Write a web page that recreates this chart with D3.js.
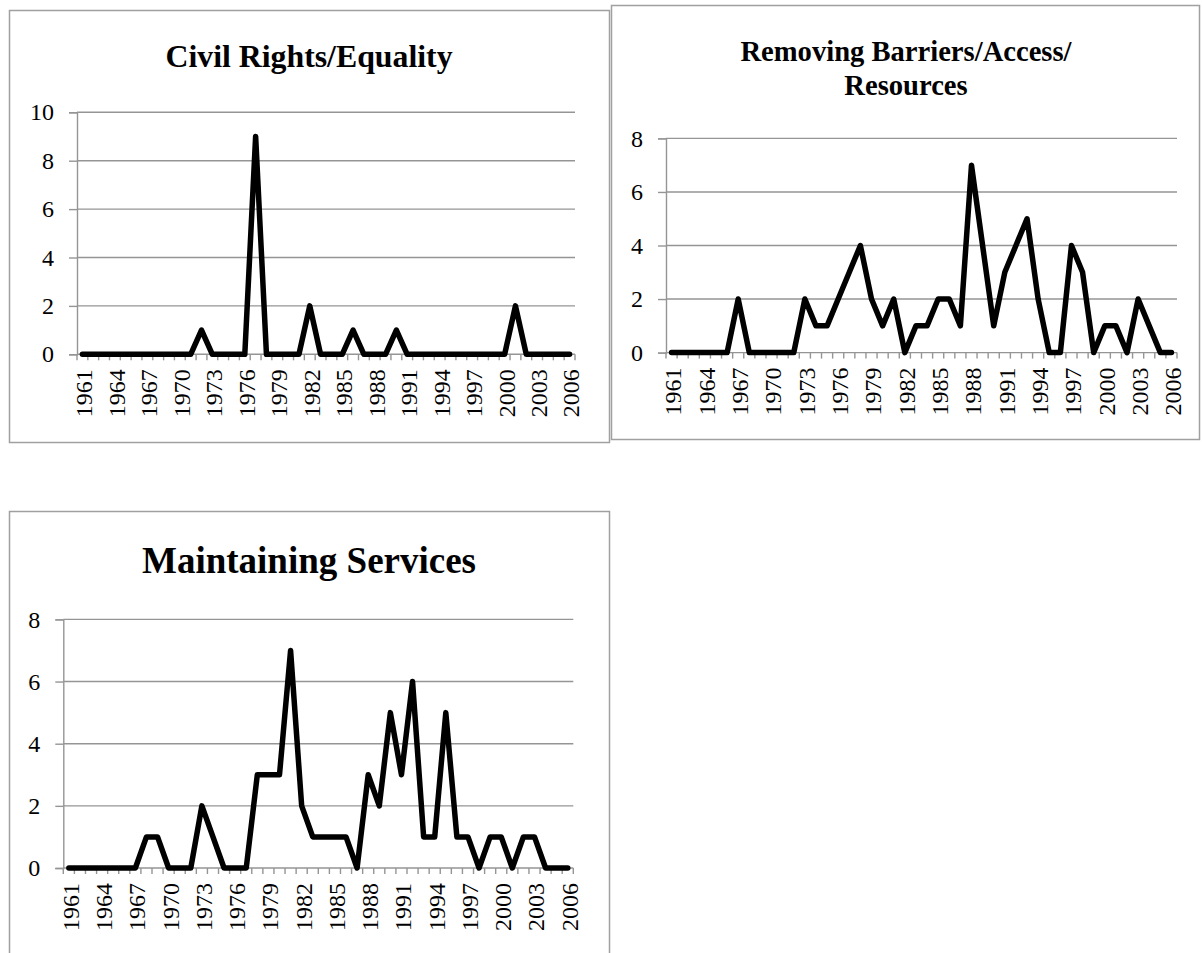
<!DOCTYPE html>
<html>
<head>
<meta charset="utf-8">
<script src="https://cdn.jsdelivr.net/npm/d3@7"></script>
<style>
  html, body { margin: 0; padding: 0; background: #ffffff; }
  svg { display: block; }
  text { font-family: "Liberation Serif", "Times New Roman", serif; fill: #000; }
</style>
</head>
<body>
<svg id="chart" width="1202" height="953"></svg>
<script>
// ---------------- DATA ----------------
const years = [1961,1962,1963,1964,1965,1966,1967,1968,1969,1970,
               1971,1972,1973,1974,1975,1976,1977,1978,1979,1980,
               1981,1982,1983,1984,1985,1986,1987,1988,1989,1990,
               1991,1992,1993,1994,1995,1996,1997,1998,1999,2000,
               2001,2002,2003,2004,2005,2006];
const yearTickLabels = [1961,1964,1967,1970,1973,1976,1979,1982,1985,1988,1991,1994,1997,2000,2003,2006];

const civilRights = [0,0,0,0,0,0,0,0,0,0,
                     0,1,0,0,0,0,9,0,0,0,
                     0,2,0,0,0,1,0,0,0,1,
                     0,0,0,0,0,0,0,0,0,0,
                     2,0,0,0,0,0];
const removingBarriers = [0,0,0,0,0,0,2,0,0,0,
                          0,0,2,1,1,2,3,4,2,1,
                          2,0,1,1,2,2,1,7,4,1,
                          3,4,5,2,0,0,4,3,0,1,
                          1,0,2,1,0,0];
const maintainingServices = [0,0,0,0,0,0,0,1,1,0,
                             0,0,2,1,0,0,0,3,3,3,
                             7,2,1,1,1,1,0,3,2,5,
                             3,6,1,1,5,1,1,0,1,1,
                             0,1,1,0,0,0];

const civilTicks = [0,2,4,6,8,10];
const barrierTicks = [0,2,4,6,8];
const servicesTicks = [0,2,4,6,8];

const civilTitle = ["Civil Rights/Equality"];
const barrierTitle = ["Removing Barriers/Access/", "Resources"];
const servicesTitle = ["Maintaining Services"];

// ---------------- LAYOUT ----------------
const panels = [
  { values: civilRights, ticks: civilTicks, title: civilTitle,
    box: {x0: 9, y0: 10, x1: 609, y1: 442},
    plot: {x0: 77, x1: 575, top: 112.3, zero: 354.3},
    titleX: 309, titleY: [67], titleSize: 31.8 },
  { values: removingBarriers, ticks: barrierTicks, title: barrierTitle,
    box: {x0: 611, y0: 5, x1: 1199, y1: 439},
    plot: {x0: 666, x1: 1177, top: 138.4, zero: 352.6},
    titleX: 906, titleY: [61, 95], titleSize: 28.6 },
  { values: maintainingServices, ticks: servicesTicks, title: servicesTitle,
    box: {x0: 9, y0: 511, x1: 609, y1: 960},
    plot: {x0: 63.3, x1: 573.3, top: 619.4, zero: 868},
    titleX: 309, titleY: [573], titleSize: 37 }
];

const gridColor = "#959595";
const svg = d3.select("#chart");

panels.forEach(p => {
  const g = svg.append("g");

  // outer border
  g.append("rect")
    .attr("x", p.box.x0 + 0.5).attr("y", p.box.y0 + 0.5)
    .attr("width", p.box.x1 - p.box.x0).attr("height", p.box.y1 - p.box.y0)
    .attr("fill", "#fff").attr("stroke", "#a0a0a0").attr("stroke-width", 1.5);

  const x = d3.scaleBand().domain(years).range([p.plot.x0, p.plot.x1]).padding(0);
  const maxV = p.ticks[p.ticks.length - 1];
  const y = d3.scaleLinear().domain([0, maxV]).range([p.plot.zero, p.plot.top]);
  const bw = x.bandwidth();

  // gridlines
  g.selectAll(".grid").data(p.ticks.filter(t => t > 0)).join("line")
    .attr("x1", p.plot.x0).attr("x2", p.plot.x1)
    .attr("y1", d => y(d)).attr("y2", d => y(d))
    .attr("stroke", gridColor).attr("stroke-width", 1.4);

  // y axis
  const yAxis = d3.axisLeft(y).tickValues(p.ticks).tickSize(8).tickPadding(15).tickFormat(d3.format("d"));
  const ya = g.append("g").attr("transform", `translate(${p.plot.x0},0)`).call(yAxis);
  ya.select(".domain").attr("stroke", gridColor).attr("stroke-width", 1.4);
  ya.selectAll(".tick line").attr("stroke", gridColor).attr("stroke-width", 1.4);
  ya.selectAll(".tick text")
    .style("font-family", '"Liberation Serif", "Times New Roman", serif')
    .style("font-size", "24px").attr("fill", "#000");

  // x axis line
  g.append("line")
    .attr("x1", p.plot.x0).attr("x2", p.plot.x1)
    .attr("y1", y(0)).attr("y2", y(0))
    .attr("stroke", gridColor).attr("stroke-width", 1.4);

  // category boundary ticks
  const bounds = years.map(v => x(v)).concat([p.plot.x1]);
  g.selectAll(".xt").data(bounds).join("line")
    .attr("x1", d => d).attr("x2", d => d)
    .attr("y1", y(0)).attr("y2", y(0) + 6)
    .attr("stroke", gridColor).attr("stroke-width", 1.4);

  // x labels (rotated)
  g.selectAll(".xl").data(yearTickLabels).join("text")
    .attr("transform", d => `translate(${x(d) + bw / 2 + 1.5},${y(0) + 15}) rotate(-90)`)
    .attr("text-anchor", "end")
    .attr("dy", "0.35em")
    .style("font-size", "24px")
    .text(d => d);

  // line
  const line = d3.line()
    .x((d, i) => x(years[i]) + bw / 2)
    .y(d => y(d));
  g.append("path").datum(p.values)
    .attr("d", line)
    .attr("fill", "none").attr("stroke", "#000")
    .attr("stroke-width", 5.5).attr("stroke-linejoin", "round").attr("stroke-linecap", "round");

  // title
  g.selectAll(".title").data(p.title).join("text")
    .attr("x", p.titleX).attr("y", (d, i) => p.titleY[i])
    .attr("text-anchor", "middle")
    .style("font-weight", "bold")
    .style("font-size", p.titleSize + "px")
    .text(d => d);
});
</script>
</body>
</html>
